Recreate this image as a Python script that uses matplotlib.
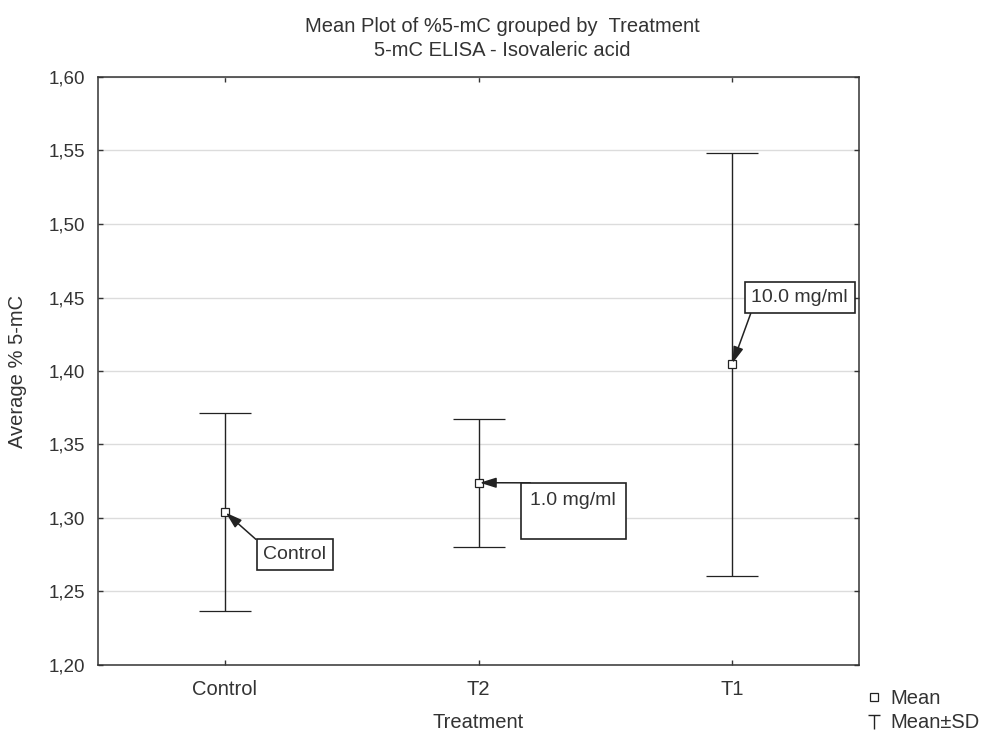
import numpy as np
import matplotlib
matplotlib.use("Agg")
import matplotlib.pyplot as plt
from matplotlib.lines import Line2D
from matplotlib.path import Path

plt.rcParams['font.family'] = ['Liberation Sans', 'DejaVu Sans']
plt.rcParams['text.color'] = '#333333'

# mean and SD of %5-mC per treatment group
groups = ["Control", "T2", "T1"]
means = [1.3042, 1.3240, 1.4045]
sds = [0.0674, 0.0434, 0.1439]
doses = ["Control", "1.0 mg/ml\n", "10.0 mg/ml"]
yticks = [1.20, 1.25, 1.30, 1.35, 1.40, 1.45, 1.50, 1.55, 1.60]

W, H = 984, 733
fig = plt.figure(figsize=(W / 100, H / 100), dpi=100)
ax = fig.add_axes([98 / W, 1 - 665 / H, (859 - 98) / W, (665 - 77) / H])

x = np.arange(len(groups))
ax.yaxis.grid(True, color='#dcdcdc', lw=1.0, zorder=0)
ax.errorbar(x, means, yerr=sds, fmt='s', mfc='white', mec='#222222', mew=0.9,
            ms=5.5, ecolor='#222222', elinewidth=1.0, capsize=18.7, capthick=1.4,
            zorder=3)

ax.set_xlim(-0.5, 2.5)
ax.set_ylim(1.20, 1.60)
ax.set_xticks(x)
ax.set_xticklabels(groups)
ax.set_yticks(yticks)
ax.set_yticklabels([f"{v:.2f}".replace('.', ',') for v in yticks])
ax.tick_params(direction='in', length=3.5, width=1, top=True, right=True,
               labelsize=13.5, colors='#333333', pad=9)
ax.tick_params(axis='x', labelsize=14.5, pad=11)
for s in ax.spines.values():
    s.set_color('#333333')
    s.set_linewidth(1.1)

# dose labels with arrows pointing at each mean
arrow = dict(arrowstyle='-|>,head_length=0.7,head_width=0.22', color='#222222',
             lw=1.1, shrinkA=0, shrinkB=1)
label_pos = [(0.276, 1.2752), (1.373, 1.3050), (2.2665, 1.4499)]
pads = [0.35, 0.5, 0.35]
# T2 arrow runs along the top edge of its box, so it starts at the box corner
arrow_extra = [dict(relpos=(0, 1)),
               dict(relpos=(0, 1.26), patchA=None),
               dict(relpos=(0.02, 0))]
for i in range(len(groups)):
    box = dict(boxstyle=f'square,pad={pads[i]}', fc='white', ec='#222222', lw=1.2)
    a = dict(arrow, **arrow_extra[i])
    ax.annotate(doses[i], xy=(x[i], means[i]), xytext=label_pos[i],
                ha='center', va='center', fontsize=14, bbox=box,
                arrowprops=a, zorder=4)

fig.text(502 / W, 1 - 26 / H, "Mean Plot of %5-mC grouped by  Treatment",
         ha='center', va='center', fontsize=14.5)
fig.text(502 / W, 1 - 51 / H, "5-mC ELISA - Isovaleric acid",
         ha='center', va='center', fontsize=14.5)
fig.text(478 / W, 1 - 722 / H, "Treatment", ha='center', va='center', fontsize=14.5)
fig.text(18 / W, 1 - 371 / H, "Average % 5-mC", ha='center', va='center',
         rotation=90, fontsize=14.5)

# thin "T" glyph for the Mean±SD legend entry
tee = Path([(-1, 1), (1, 1), (0, 1), (0, -1.4)],
           [Path.MOVETO, Path.LINETO, Path.MOVETO, Path.LINETO])
handles = [
    Line2D([], [], ls='none', marker='s', mfc='white', mec='#222222', mew=0.9, ms=5.5),
    Line2D([], [], ls='none', marker=tee, mfc='none', mec='#222222', mew=1.0, ms=12),
]
fig.legend(handles, ["Mean", "Mean\u00b1SD"], loc='upper left',
           bbox_to_anchor=(864 / W, 1 - 689 / H), frameon=False, fontsize=14.5,
           handlelength=1.0, handletextpad=0.3, labelspacing=0.25, borderpad=0,
           borderaxespad=0)

fig.savefig("out.png", dpi=100)
